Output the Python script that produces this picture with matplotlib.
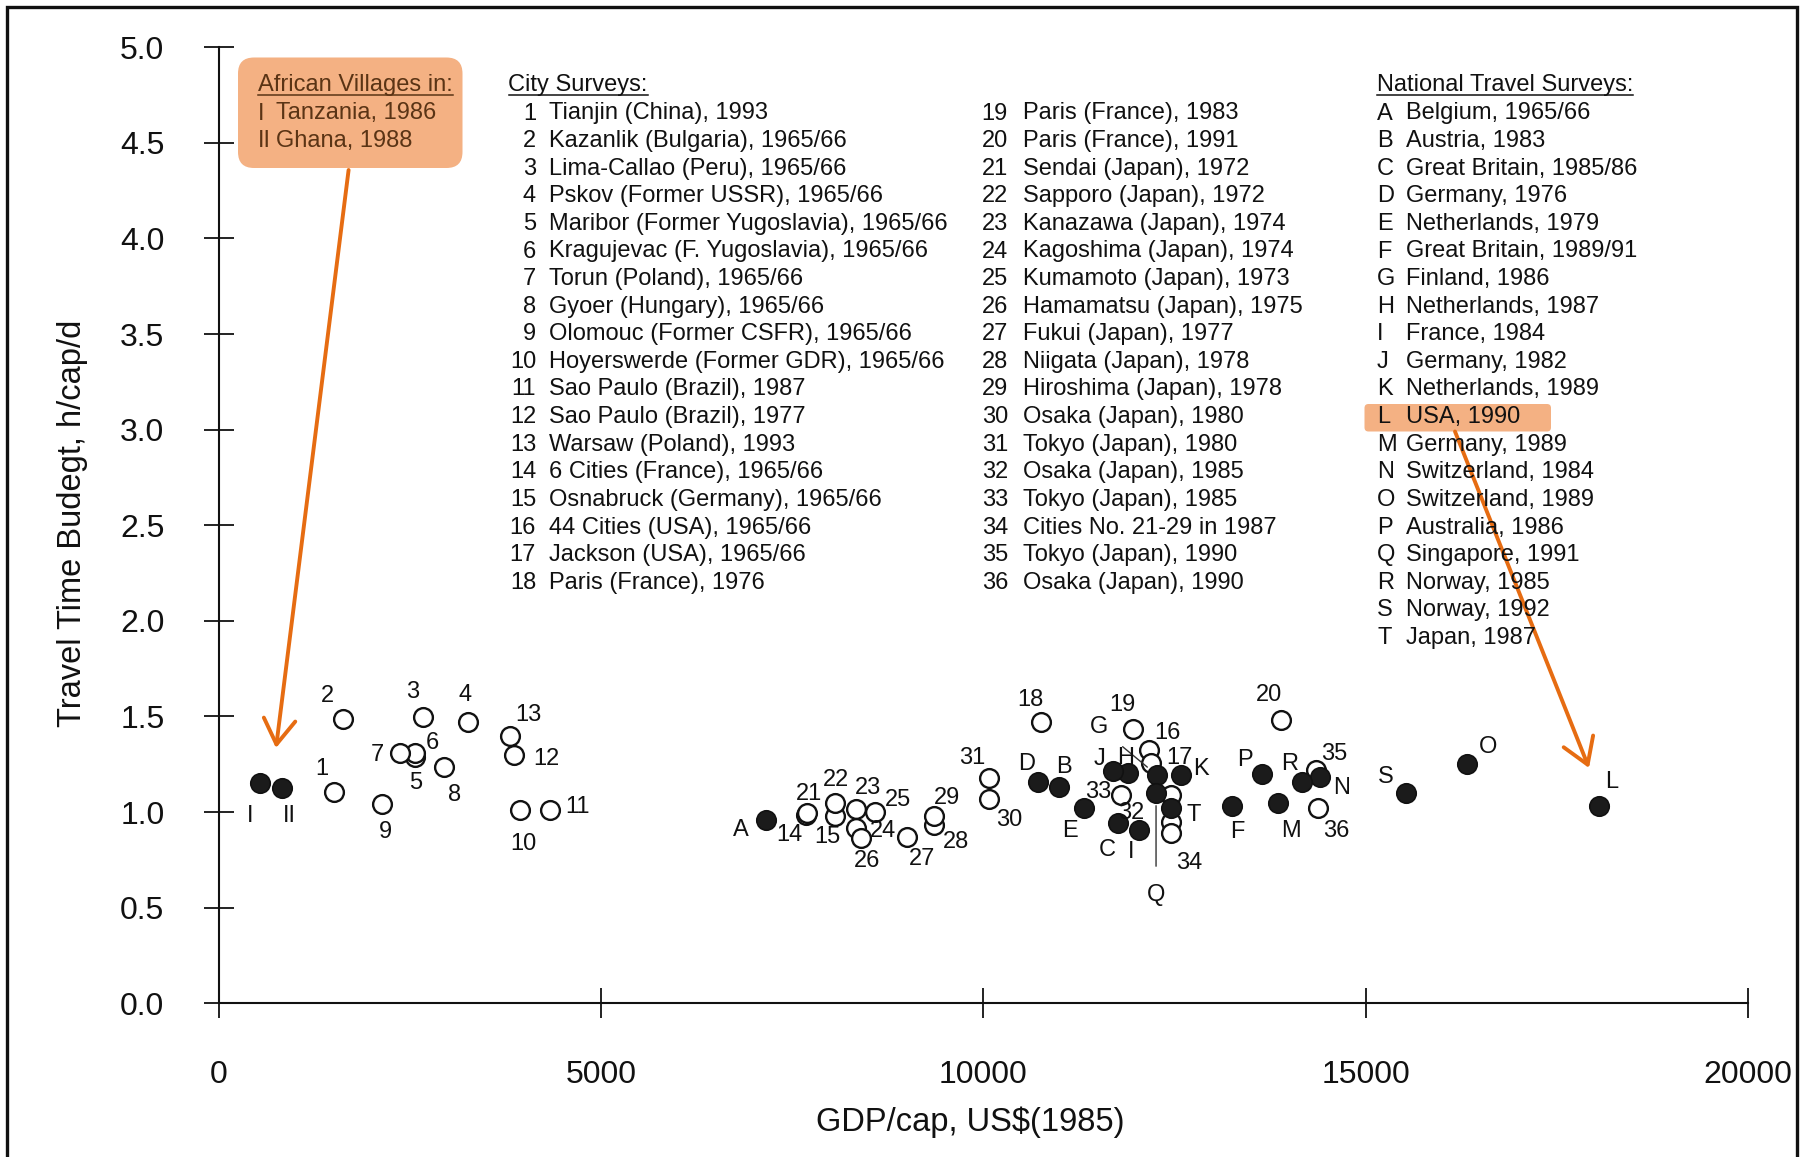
import matplotlib

matplotlib.use("Agg")
import matplotlib.pyplot as plt
from matplotlib.lines import Line2D
from matplotlib.patches import FancyBboxPatch, Rectangle
from matplotlib.transforms import IdentityTransform

plt.rcParams["font.family"] = ["Liberation Sans", "DejaVu Sans"]

W, H = 1804, 1157
ORANGE = "#E66C12"
BOX_FILL = "#F4B183"

# --- data --------------------------------------------------------------
village_lbl = ["I", "II"]
village_x = [542, 834]
village_y = [1.150, 1.124]

city_lbl = [str(i) for i in range(1, 37)] + [""]
city_x = [1511, 1624, 2667, 3256, 2571, 2562, 2375, 2950, 2143, 3945,
          4338, 3858, 3814, 7680, 8060, 12166, 12192, 10752, 11952, 13894,
          7700, 8060, 8331, 8331, 8579, 8405, 9007, 9356, 9356, 10076,
          10076, 12455, 11800, 12455, 14352, 14374, 12455]
city_y = [1.103, 1.485, 1.499, 1.472, 1.289, 1.310, 1.310, 1.234, 1.042, 1.010,
          1.010, 1.298, 1.397, 0.984, 0.979, 1.324, 1.256, 1.472, 1.435, 1.481,
          0.995, 1.045, 1.014, 0.915, 1.002, 0.862, 0.871, 0.932, 0.979, 1.068,
          1.176, 0.949, 1.089, 0.889, 1.220, 1.019, 1.089]

nat_lbl = list("ABCDEFGHIJKLMNOPQRST")
nat_x = [7162, 10992, 11756, 10717, 11311, 13248, 12271, 11886, 12039, 11690,
         12585, 18047, 13850, 14404, 16325, 13641, 12259, 14165, 15530, 12455]
nat_y = [0.958, 1.132, 0.941, 1.159, 1.019, 1.033, 1.193, 1.202, 0.906, 1.216,
         1.196, 1.033, 1.046, 1.181, 1.251, 1.197, 1.098, 1.159, 1.101, 1.020]

village_names = ["Tanzania, 1986", "Ghana, 1988"]
city_names = [
    "Tianjin (China), 1993", "Kazanlik (Bulgaria), 1965/66",
    "Lima-Callao (Peru), 1965/66", "Pskov (Former USSR), 1965/66",
    "Maribor (Former Yugoslavia), 1965/66", "Kragujevac (F. Yugoslavia), 1965/66",
    "Torun (Poland), 1965/66", "Gyoer (Hungary), 1965/66",
    "Olomouc (Former CSFR), 1965/66", "Hoyerswerde (Former GDR), 1965/66",
    "Sao Paulo (Brazil), 1987", "Sao Paulo (Brazil), 1977",
    "Warsaw (Poland), 1993", "6 Cities (France), 1965/66",
    "Osnabruck (Germany), 1965/66", "44 Cities (USA), 1965/66",
    "Jackson (USA), 1965/66", "Paris (France), 1976",
    "Paris (France), 1983", "Paris (France), 1991", "Sendai (Japan), 1972",
    "Sapporo (Japan), 1972", "Kanazawa (Japan), 1974", "Kagoshima (Japan), 1974",
    "Kumamoto (Japan), 1973", "Hamamatsu (Japan), 1975", "Fukui (Japan), 1977",
    "Niigata (Japan), 1978", "Hiroshima (Japan), 1978", "Osaka (Japan), 1980",
    "Tokyo (Japan), 1980", "Osaka (Japan), 1985", "Tokyo (Japan), 1985",
    "Cities No. 21-29 in 1987", "Tokyo (Japan), 1990", "Osaka (Japan), 1990",
]
nat_names = [
    "Belgium, 1965/66", "Austria, 1983", "Great Britain, 1985/86",
    "Germany, 1976", "Netherlands, 1979", "Great Britain, 1989/91",
    "Finland, 1986", "Netherlands, 1987", "France, 1984", "Germany, 1982",
    "Netherlands, 1989", "USA, 1990", "Germany, 1989", "Switzerland, 1984",
    "Switzerland, 1989", "Australia, 1986", "Singapore, 1991", "Norway, 1985",
    "Norway, 1992", "Japan, 1987",
]

x_ticks = [0, 5000, 10000, 15000, 20000]
y_ticks = [0.0, 0.5, 1.0, 1.5, 2.0, 2.5, 3.0, 3.5, 4.0, 4.5, 5.0]

# label offsets in pixels (right, down) from the marker
off = {
    "I": (-10, 33), "II": (7, 28),
    "1": (-12, -23), "2": (-15, -23), "3": (-10, -25), "4": (-3, -27),
    "5": (0, 26), "6": (18, -10), "7": (-23, 2), "8": (10, 28), "9": (3, 28),
    "10": (3, 34), "11": (27, -3), "12": (33, 4), "13": (18, -21),
    "14": (-17, 20), "15": (-8, 21), "16": (19, -17), "17": (29, -5),
    "18": (-10, -22), "19": (-10, -24), "20": (-12, -25), "21": (2, -19),
    "22": (1, -23), "23": (12, -21), "24": (27, 3), "25": (23, -12),
    "26": (6, 23), "27": (15, 22), "28": (22, 17), "29": (13, -18),
    "30": (20, 21), "31": (-17, -20), "32": (-40, -9), "33": (-23, -3),
    "34": (18, 30), "35": (18, -16), "36": (18, 23),
    "A": (-25, 10), "B": (5, -20), "C": (-10, 27), "D": (-12, -18),
    "E": (-14, 23), "F": (6, 26), "G": (-58, -48), "H": (-2, -15),
    "I_n": (-8, 22), "J": (-13, -12), "K": (20, -6), "L": (13, -24),
    "M": (13, 28), "N": (21, 11), "O": (21, -17), "P": (-17, -14),
    "Q": (0, 102), "R": (-12, -18), "S": (-20, -16), "T": (23, 7),
}
leader = {"G", "Q"}


def fx(px):
    return px / W


def fy(py):
    return 1 - py / H


fig = plt.figure(figsize=(W / 100, H / 100), dpi=100)
ax = fig.add_axes([fx(218.6), fy(1003.2), fx(1748) - fx(218.6), fy(47.2) - fy(1003.2)])
ax.set_xlim(0, 20000)
ax.set_ylim(0, 5)
ax.set_facecolor("none")
for s in ["top", "right"]:
    ax.spines[s].set_visible(False)
for s in ["left", "bottom"]:
    ax.spines[s].set_linewidth(1.5)
    ax.spines[s].set_color("#111111")
ax.set_xticks(x_ticks)
ax.set_xticklabels([str(v) for v in x_ticks])
ax.set_yticks(y_ticks)
ax.set_yticklabels([f"{v:.1f}" for v in y_ticks])
ax.tick_params(axis="both", direction="inout", length=22, width=1.3,
               labelsize=23, colors="#111111")
ax.tick_params(axis="y", pad=28)
ax.tick_params(axis="x", pad=30)

MS = 13.5
ax.plot(city_x, city_y, "o", ms=MS, mfc="white", mec="#111111", mew=1.7,
        ls="none", zorder=3, clip_on=False)
ax.plot(village_x + nat_x, village_y + nat_y, "o", ms=MS + 0.5, mfc="#1b1b1b",
        mec="#111111", mew=1.2, ls="none", zorder=4, clip_on=False)


def put_label(lbl, key, x, y):
    if not lbl:
        return
    dx, dy = off[key]
    kw = {}
    if lbl in leader and key == lbl:
        kw["arrowprops"] = dict(arrowstyle="-", lw=1.0, color="#333333",
                                shrinkA=11, shrinkB=9)
    ax.annotate(lbl, (x, y), xytext=(dx, -dy), textcoords="offset pixels",
                ha="center", va="center", fontsize=17, color="#111111",
                zorder=5, **kw)


for lbl, x, y in zip(village_lbl, village_x, village_y):
    put_label(lbl, lbl, x, y)
for lbl, x, y in zip(city_lbl, city_x, city_y):
    put_label(lbl, lbl, x, y)
for lbl, x, y in zip(nat_lbl, nat_x, nat_y):
    put_label(lbl, "I_n" if lbl == "I" else lbl, x, y)

fig.text(fx(72.5), fy(523.5), "Travel Time Budegt, h/cap/d", rotation=90,
         ha="center", va="center", fontsize=23.5, color="#111111")
fig.text(fx(970), fy(1122), "GDP/cap, US$(1985)", ha="center", va="center",
         fontsize=23.5, color="#111111")

# --- legend blocks -------------------------------------------------------
FS = 17
BASE0, STEP, HEAD = 119.5, 27.6, 91.5
ink = "#111111"
brown = "#5A3415"

box = FancyBboxPatch((238, H - 168), 224.5, 110.5,
                     boxstyle="round,pad=0,rounding_size=16",
                     transform=IdentityTransform(), fc=BOX_FILL, ec="none", zorder=1)
fig.add_artist(box)
hl = FancyBboxPatch((1364.5, H - 431.5), 186.5, 27.5,
                    boxstyle="round,pad=0,rounding_size=4",
                    transform=IdentityTransform(), fc=BOX_FILL, ec="none", zorder=1)
fig.add_artist(hl)

headers = []
headers.append((fig.text(fx(258), fy(HEAD), "African Villages in:", fontsize=FS,
                         color=brown, va="baseline"), brown))
for i, (r, name) in enumerate(zip(village_lbl, village_names)):
    yb = BASE0 + i * STEP
    fig.text(fx(258), fy(yb), r, fontsize=FS, color=brown, va="baseline")
    fig.text(fx(276), fy(yb), name, fontsize=FS, color=brown, va="baseline")

headers.append((fig.text(fx(508.5), fy(HEAD), "City Surveys:", fontsize=FS,
                         color=ink, va="baseline"), ink))
for i, name in enumerate(city_names):
    col = i // 18
    row = i % 18
    yb = BASE0 + row * STEP
    nx, tx = (536, 549) if col == 0 else (1008, 1023)
    fig.text(fx(nx), fy(yb), str(i + 1), fontsize=FS, color=ink,
             ha="right", va="baseline")
    fig.text(fx(tx), fy(yb), name, fontsize=FS, color=ink, va="baseline")

headers.append((fig.text(fx(1377), fy(HEAD), "National Travel Surveys:",
                         fontsize=FS, color=ink, va="baseline"), ink))
for i, (lbl, name) in enumerate(zip(nat_lbl, nat_names)):
    yb = BASE0 + i * STEP
    fig.text(fx(1377), fy(yb), lbl, fontsize=FS, color=ink, va="baseline")
    fig.text(fx(1406), fy(yb), name, fontsize=FS, color=ink, va="baseline")

# orange arrows
arrow = dict(arrowstyle="->,head_length=0.6,head_width=0.38", color=ORANGE,
             lw=2.8, mutation_scale=30, shrinkA=0, shrinkB=0)
fig.add_artist(matplotlib.text.Annotation(
    "", xy=(276, H - 748), xytext=(348.6, H - 170), xycoords="figure pixels",
    textcoords="figure pixels", arrowprops=arrow))
fig.add_artist(matplotlib.text.Annotation(
    "", xy=(1589, H - 768), xytext=(1455, H - 431.5), xycoords="figure pixels",
    textcoords="figure pixels", arrowprops=arrow))

# outer frame
fig.add_artist(Rectangle((7, -20), 1790, H - 7 + 20, transform=IdentityTransform(),
                         fill=False, ec="#111111", lw=2.4))

# underline the block headers
fig.canvas.draw()
renderer = fig.canvas.get_renderer()
for t, c in headers:
    bb = t.get_window_extent(renderer)
    yb = H - HEAD - 3
    fig.add_artist(Line2D([bb.x0, bb.x1], [yb, yb], transform=IdentityTransform(),
                          color=c, lw=1.1))

fig.savefig("out.png", dpi=100)
